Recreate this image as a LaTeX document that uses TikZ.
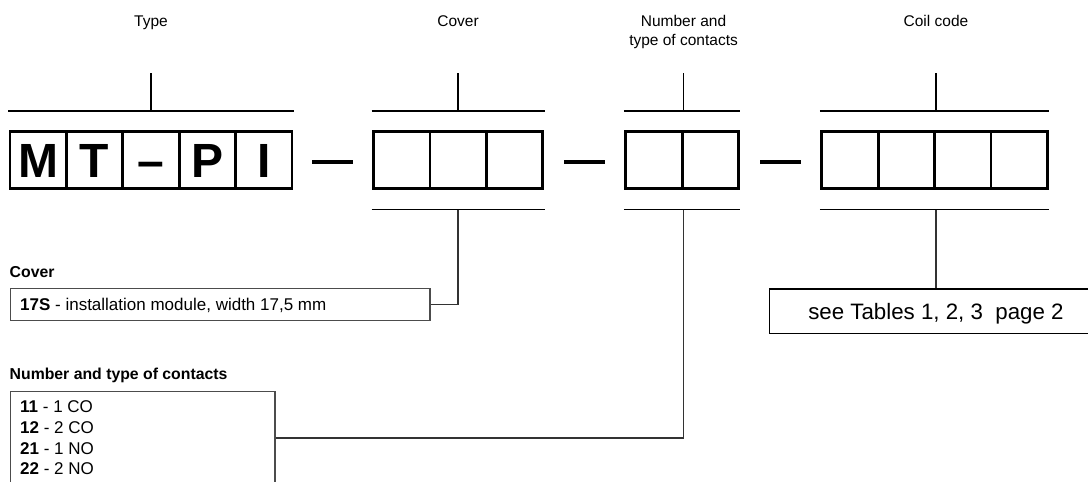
\documentclass[tikz,border=0pt]{standalone}
\usepackage{fontspec}
\setmainfont{Liberation Sans}
\usetikzlibrary{calc}
\begin{document}
\begin{tikzpicture}[x=1pt,y=-1pt,
  cell/.style={draw=black, line width=2.7pt, minimum width=56.4pt, minimum height=57pt,
    inner sep=0pt, font=\fontsize{48}{48}\selectfont\bfseries, text height=34.4pt, text depth=0pt},
  rule/.style={line width=1.3pt, black},
  tick/.style={line width=1.4pt, black},
  sep/.style={line width=4pt, black},
  conn/.style={line width=1.3pt, black!80},
  infobox/.style={draw=black!70, line width=1.2pt, inner sep=0pt, anchor=north west},
  toplabel/.style={anchor=base, inner sep=0pt, font=\fontsize{15.5}{19}\selectfont},
  headlabel/.style={anchor=base west, inner sep=0pt, font=\fontsize{15.8}{19}\selectfont\bfseries},
  boxtext/.style={anchor=base west, inner sep=0pt, font=\fontsize{17}{20.5}\selectfont}
]
\useasboundingbox (0,0) rectangle (1088,482);

% --- Type cells
\node[cell] (t1) at (38.2,160.2) {M};
\node[cell] (t2) at (94.6,160.2) {T};
\node[cell] (t3) at (151.0,160.2) {–};
\node[cell] (t4) at (207.4,160.2) {P};
\node[cell] (t5) at (263.8,160.2) {I};
% --- Cover cells
\node[cell] (v1) at (401.7,160.2) {};
\node[cell] (v2) at (458.1,160.2) {};
\node[cell] (v3) at (514.5,160.2) {};
% --- Contacts cells
\node[cell] (k1) at (654.0,160.2) {};
\node[cell] (k2) at (710.4,160.2) {};
% --- Coil cells
\node[cell] (c1) at (850.0,160.2) {};
\node[cell] (c2) at (906.4,160.2) {};
\node[cell] (c3) at (962.8,160.2) {};
\node[cell] (c4) at (1019.2,160.2) {};

% --- separators
\coordinate (s1a) at ($(t5.east)+(18.8,2.1)$);
\coordinate (s1b) at ($(v1.west)+(-19.2,2.1)$);
\coordinate (s2a) at ($(v3.east)+(20.1,2.1)$);
\coordinate (s2b) at ($(k1.west)+(-19.3,2.1)$);
\coordinate (s3a) at ($(k2.east)+(20.2,2.1)$);
\coordinate (s3b) at ($(c1.west)+(-19.3,2.1)$);
\draw[sep] (s1a) -- (s1b);
\draw[sep] (s2a) -- (s2b);
\draw[sep] (s3a) -- (s3b);

% --- top and bottom rules
\coordinate (typeTL) at ($(t1.north west)+(-0.5,-19.4)$);
\coordinate (typeTR) at ($(t5.north east)+(0.5,-19.4)$);
\coordinate (covTL) at ($(v1.north west)+(-0.5,-19.4)$);
\coordinate (covTR) at ($(v3.north east)+(0.5,-19.4)$);
\coordinate (covBL) at ($(v1.south west)+(-0.5,19.6)$);
\coordinate (covBR) at ($(v3.south east)+(0.5,19.6)$);
\coordinate (conTL) at ($(k1.north west)+(-0.5,-19.4)$);
\coordinate (conTR) at ($(k2.north east)+(0.5,-19.4)$);
\coordinate (conBL) at ($(k1.south west)+(-0.5,19.6)$);
\coordinate (conBR) at ($(k2.south east)+(0.5,19.6)$);
\coordinate (coiTL) at ($(c1.north west)+(-0.5,-19.4)$);
\coordinate (coiTR) at ($(c4.north east)+(0.5,-19.4)$);
\coordinate (coiBL) at ($(c1.south west)+(-0.5,19.6)$);
\coordinate (coiBR) at ($(c4.south east)+(0.5,19.6)$);
\draw[rule] (typeTL) -- (typeTR);
\draw[rule] (covTL) -- (covTR);
\draw[rule] (covBL) -- (covBR);
\draw[rule] (conTL) -- (conTR);
\draw[rule] (conBL) -- (conBR);
\draw[rule] (coiTL) -- (coiTR);
\draw[rule] (coiBL) -- (coiBR);

% --- top ticks
\coordinate (typeTick) at (t3 |- 0,73);
\coordinate (covTick) at (v2 |- 0,73);
\coordinate (conTick) at (k1.east |- 0,73);
\coordinate (coiTick) at (c2.east |- 0,73);
\draw[tick] (typeTick) -- (typeTick |- typeTL);
\draw[tick] (covTick) -- (covTick |- covTL);
\draw[tick] (conTick) -- (conTick |- conTL);
\draw[tick] (coiTick) -- (coiTick |- coiTL);

% --- top labels
\node[toplabel] (lType) at (t3 |- 0,26) {Type};
\node[toplabel] (lCover) at (v2 |- 0,26) {Cover};
\node[toplabel] (lNum1) at (k1.east |- 0,26) {Number and};
\node[toplabel] (lNum2) at (k1.east |- 0,45) {type of contacts};
\node[toplabel] (lCoil) at (c2.east |- 0,26) {Coil code};

% --- Cover legend
\node[headlabel] (hCover) at (9.5,277.3) {Cover};
\node[infobox, minimum width=419.3pt, minimum height=32.3pt] (coverbox) at (10,287.7) {};
\node[boxtext] (coverText) at (20,310.2) {\textbf{17S} - installation module, width 17,5 mm};
\draw[conn] (v2 |- covBL) |- (coverbox.east);

% --- Contacts legend
\node[headlabel] (hCont) at (9.5,379) {Number and type of contacts};
\node[infobox, minimum width=264.3pt, minimum height=93.2pt] (cbox) at (10,390.7) {};
\node[boxtext] (ct1) at (20,412.7) {\textbf{11} - 1 CO};
\node[boxtext] (ct2) at (20,433.3) {\textbf{12} - 2 CO};
\node[boxtext] (ct3) at (20,454.0) {\textbf{21} - 1 NO};
\node[boxtext] (ct4) at (20,474.4) {\textbf{22} - 2 NO};
\draw[conn] (k1.east |- conBL) |- (cbox.east);

% --- Coil legend
\node[draw=black, line width=1.2pt, inner sep=0pt, minimum width=332.6pt, minimum height=44.4pt,
  anchor=north, font=\fontsize{22.3}{26}\selectfont, text height=16pt, text depth=0pt]
  (coilbox) at (c2.east |- 0,288.3) {see Tables 1, 2, 3~ page 2};
\draw[conn] (c2.east |- coiBL) -- (coilbox.north);
\end{tikzpicture}
\end{document}
